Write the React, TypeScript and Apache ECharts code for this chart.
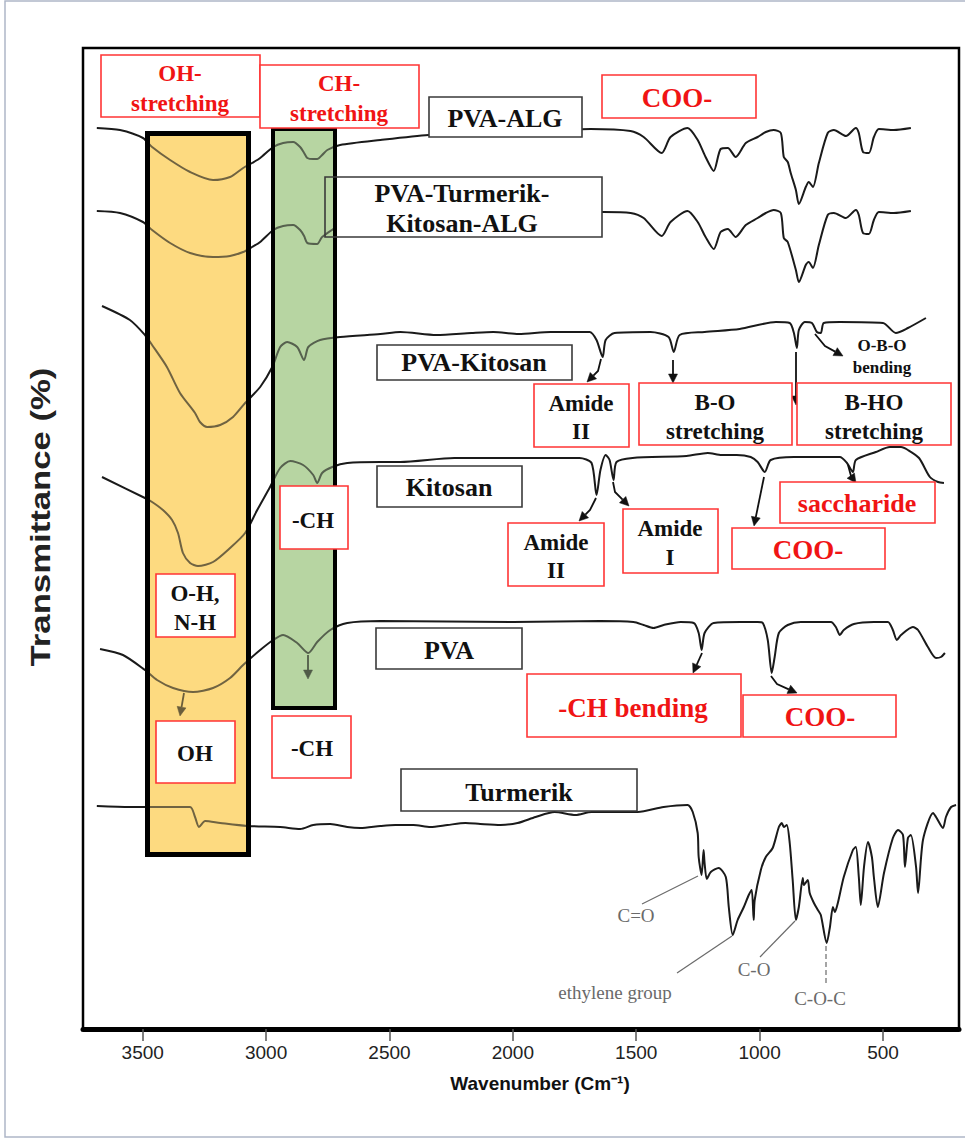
import React, { useEffect, useRef } from 'react';
import * as echarts from 'echarts';

// Wavenumber ticks (cm-1)
const wavenumberTicks = [3500, 3000, 2500, 2000, 1500, 1000, 500];

// Spectra: [wavenumber (cm-1), transmittance (stacked, arbitrary %)]
const pvaAlg: [number, number][] = [
  [3686, 90.1], [3592, 89.9], [3499, 89.1], [3462, 88.2], [3389, 86.9], [3308, 85.7], [3215, 84.9], [3146, 85.2],
  [3093, 86.1], [3057, 86.6], [3024, 87.1], [2971, 88.2], [2931, 88.6], [2890, 88.7], [2862, 88.2], [2846, 87.6],
  [2833, 87.1], [2809, 87.0], [2793, 87.0], [2773, 87.4], [2752, 87.9], [2700, 88.4], [2537, 88.9], [2342, 89.4],
  [2132, 89.6], [1847, 89.8], [1685, 90.0], [1523, 89.8], [1470, 89.2], [1397, 87.6], [1361, 89.2], [1292, 90.1],
  [1251, 88.9], [1219, 87.2], [1186, 85.8], [1158, 88.0], [1129, 88.1], [1097, 87.2], [1056, 88.6], [1008, 89.2],
  [975, 89.7], [943, 89.9], [914, 89.6], [902, 87.2], [886, 86.7], [874, 85.6], [853, 83.9], [841, 82.5],
  [813, 84.2], [801, 84.7], [784, 84.2], [760, 86.6], [724, 89.6], [699, 89.9], [650, 89.3], [610, 90.1],
  [598, 89.6], [581, 87.7], [557, 87.6], [537, 89.2], [517, 90.0], [456, 89.9], [387, 90.1],
];

const pvaTurmerikKitosanAlg: [number, number][] = [
  [3686, 81.8], [3592, 81.6], [3499, 80.7], [3462, 79.9], [3389, 78.6], [3308, 77.6], [3215, 77.2], [3146, 77.3],
  [3093, 77.7], [3057, 78.2], [3024, 78.7], [2971, 79.9], [2931, 80.3], [2890, 80.4], [2862, 79.9], [2846, 79.3],
  [2833, 78.6], [2793, 78.5], [2773, 79.2], [2700, 80.3], [2375, 80.9], [1969, 81.4], [1632, 81.7], [1523, 81.6],
  [1470, 81.1], [1397, 79.3], [1361, 80.7], [1292, 81.8], [1251, 80.7], [1219, 79.2], [1186, 78.0], [1158, 79.7],
  [1129, 80.0], [1097, 79.2], [1056, 80.4], [1008, 81.1], [975, 81.6], [943, 81.9], [914, 81.6], [902, 79.1],
  [886, 78.7], [853, 75.9], [841, 74.7], [813, 76.4], [801, 76.7], [784, 76.1], [760, 78.4], [724, 81.4],
  [699, 81.6], [650, 81.1], [610, 81.9], [598, 81.4], [581, 79.6], [557, 79.5], [537, 80.9], [517, 81.7],
  [456, 81.6], [387, 81.8],
];

const pvaKitosan: [number, number][] = [
  [3665, 72.3], [3552, 70.9], [3491, 69.4], [3462, 68.4], [3402, 66.2], [3349, 63.6], [3288, 61.6], [3268, 60.7],
  [3239, 60.2], [3186, 60.4], [3134, 61.2], [3085, 62.6], [3024, 64.2], [2975, 66.2], [2943, 68.2], [2915, 68.7],
  [2874, 68.2], [2846, 66.9], [2829, 68.2], [2781, 68.9], [2700, 69.2], [2537, 69.5], [2456, 69.7], [2310, 69.4],
  [2168, 69.6], [2079, 69.7], [1977, 69.5], [1847, 69.7], [1689, 69.7], [1661, 68.9], [1636, 67.2], [1624, 68.9],
  [1588, 69.6], [1442, 69.7], [1369, 69.2], [1348, 67.7], [1324, 69.4], [1223, 69.7], [1081, 70.0], [934, 70.7],
  [878, 70.6], [861, 69.6], [849, 68.1], [841, 69.9], [817, 70.7], [788, 70.6], [768, 69.7], [752, 69.6],
  [740, 70.6], [675, 70.7], [500, 70.6], [448, 69.6], [399, 70.1], [326, 71.1],
];

const kitosan: [number, number][] = [
  [3665, 55.2], [3491, 53.1], [3462, 52.7], [3418, 51.9], [3381, 50.9], [3357, 49.6], [3337, 47.6], [3308, 46.6],
  [3276, 46.3], [3215, 46.7], [3146, 48.1], [3085, 49.6], [3036, 51.9], [2984, 54.2], [2943, 56.1], [2902, 56.8],
  [2850, 56.4], [2809, 55.4], [2793, 54.6], [2773, 55.6], [2732, 56.2], [2671, 56.6], [2537, 56.7], [2456, 56.7],
  [2237, 57.1], [1977, 57.1], [1730, 57.1], [1681, 56.6], [1661, 53.4], [1645, 55.9], [1624, 57.4], [1608, 56.9],
  [1592, 54.9], [1580, 56.7], [1515, 57.1], [1296, 57.3], [1210, 57.6], [1154, 57.4], [1093, 57.4], [1036, 57.2],
  [1008, 56.7], [979, 55.7], [955, 56.9], [861, 57.2], [675, 57.2], [646, 56.6], [622, 55.7], [610, 56.9],
  [529, 57.7], [472, 58.2], [427, 58.2], [399, 57.9], [354, 57.1], [310, 55.2], [277, 54.7], [253, 54.6],
];

const pva: [number, number][] = [
  [3673, 38.0], [3580, 37.4], [3491, 35.9], [3442, 34.9], [3377, 34.1], [3296, 33.7], [3215, 34.1], [3146, 35.1],
  [3093, 36.4], [3024, 37.9], [2971, 38.9], [2931, 39.4], [2874, 38.6], [2829, 37.6], [2793, 38.7], [2740, 39.9],
  [2671, 40.6], [2537, 40.8], [1998, 40.7], [1645, 40.8], [1511, 40.7], [1470, 40.4], [1430, 40.1], [1389, 40.4],
  [1320, 40.7], [1267, 40.6], [1247, 39.6], [1235, 37.9], [1223, 39.6], [1186, 40.6], [1077, 40.7], [1008, 40.7],
  [987, 40.6], [967, 38.9], [951, 35.6], [939, 37.2], [922, 39.6], [886, 40.4], [833, 40.7], [711, 40.7],
  [691, 40.2], [675, 39.4], [659, 39.9], [618, 40.5], [537, 40.7], [480, 40.7], [460, 39.9], [444, 38.9],
  [427, 39.4], [379, 40.2], [358, 39.9], [318, 38.2], [285, 37.1], [265, 37.2], [249, 37.6],
];

const turmerik: [number, number][] = [
  [3686, 22.3], [3552, 22.2], [3308, 22.2], [3288, 21.2], [3272, 20.2], [3247, 20.8], [3186, 20.6], [3077, 20.3],
  [2943, 20.2], [2862, 20.0], [2809, 20.4], [2740, 20.5], [2671, 20.2], [2618, 20.1], [2537, 20.3], [2476, 20.4],
  [2403, 20.4], [2334, 20.2], [2265, 20.4], [2192, 20.6], [2132, 20.5], [2050, 20.4], [1981, 20.6], [1908, 21.2],
  [1831, 21.7], [1746, 21.4], [1681, 21.7], [1494, 21.7], [1389, 22.2], [1292, 22.4], [1271, 21.7], [1251, 19.6],
  [1247, 17.2], [1235, 15.4], [1227, 17.9], [1223, 16.6], [1214, 15.0], [1198, 15.7], [1166, 16.1], [1137, 15.2],
  [1125, 12.2], [1109, 9.4], [1089, 10.9], [1064, 12.2], [1044, 13.4], [1032, 13.9], [1024, 10.9], [1020, 12.9],
  [995, 15.9], [975, 17.2], [947, 18.1], [922, 20.2], [910, 20.6], [902, 20.2], [890, 20.4], [878, 18.6],
  [866, 14.9], [853, 10.9], [841, 12.2], [825, 15.1], [821, 14.4], [805, 14.9], [797, 13.6], [780, 12.6],
  [764, 11.9], [752, 11.4], [728, 8.6], [715, 10.2], [703, 12.2], [695, 11.7], [683, 12.6], [659, 15.2],
  [622, 17.9], [610, 18.2], [598, 15.2], [590, 12.4], [577, 16.2], [561, 18.7], [545, 17.2], [537, 15.2],
  [521, 12.2], [496, 15.6], [460, 19.1], [439, 19.9], [419, 19.4], [411, 16.2], [399, 19.1], [387, 19.4],
  [366, 16.2], [358, 13.6], [338, 18.9], [297, 21.6], [285, 21.2], [257, 20.1], [245, 21.2], [224, 22.2], [204, 22.4],
];

const spectra: { name: string; data: [number, number][] }[] = [
  { name: 'PVA-ALG', data: pvaAlg },
  { name: 'PVA-Turmerik-Kitosan-ALG', data: pvaTurmerikKitosanAlg },
  { name: 'PVA-Kitosan', data: pvaKitosan },
  { name: 'Kitosan', data: kitosan },
  { name: 'PVA', data: pva },
  { name: 'Turmerik', data: turmerik },
];

const SERIF = '"Liberation Serif", "Times New Roman", serif';
const SANS = '"Liberation Sans", Arial, sans-serif';
const RED_TEXT = '#f01414';
const RED_BORDER = '#ff3535';
const BLACK_BORDER = '#3a3a3a';
const YELLOW = '#FDDA80';
const GREEN = '#B7D6A2';

function txt(x: number, y: number, text: string, size: number, fill: string, weight = 'bold', family = SERIF, z = 21): any {
  return {
    type: 'text', x, y, z, silent: true,
    style: {
      text, fill, font: `${weight} ${size}px ${family}`,
      align: 'center', verticalAlign: 'middle', textAlign: 'center', textVerticalAlign: 'middle',
    },
  };
}

function labelBox(x1: number, y1: number, x2: number, y2: number, stroke: string, lines: string[], ys: number[], cx: number, size: number, fill: string): any[] {
  const els: any[] = [
    { type: 'rect', z: 20, silent: true, shape: { x: x1, y: y1, width: x2 - x1, height: y2 - y1 }, style: { fill: '#fff', stroke, lineWidth: 1.6 } },
  ];
  lines.forEach((t, i) => els.push(txt(cx, ys[i], t, size, fill)));
  return els;
}

function arrow(pts: number[][], color = '#111', z = 15, w = 1.8): any[] {
  const n = pts.length;
  const [x1, y1] = pts[n - 2];
  const [x2, y2] = pts[n - 1];
  const a = Math.atan2(y2 - y1, x2 - x1);
  const L = 9, W = 4.5;
  const bx = x2 - L * Math.cos(a), by = y2 - L * Math.sin(a);
  const head = [[x2, y2], [bx + W * Math.sin(a), by - W * Math.cos(a)], [bx - W * Math.sin(a), by + W * Math.cos(a)]];
  const linePts = pts.slice(0, n - 1).concat([[bx, by]]);
  return [
    { type: 'polyline', z, silent: true, shape: { points: linePts }, style: { stroke: color, lineWidth: w, fill: 'none' } },
    { type: 'polygon', z, silent: true, shape: { points: head }, style: { fill: color, stroke: color, lineWidth: 0.5 } },
  ];
}

function line(pts: number[][], color: string, z = 15, w = 1.2, dash?: number[]): any {
  return { type: 'polyline', z, silent: true, shape: { points: pts }, style: { stroke: color, lineWidth: w, fill: 'none', lineDash: dash } };
}

function buildGraphics(): any[] {
  const g: any[] = [];
  // outer frame of the figure
  g.push({ type: 'rect', z: 0, silent: true, shape: { x: 5, y: 1, width: 962, height: 1136 }, style: { fill: 'none', stroke: '#aeb6c8', lineWidth: 1.5 } });
  // shaded regions (below curves)
  g.push({ type: 'rect', z: 1, silent: true, shape: { x: 147, y: 133, width: 102, height: 722 }, style: { fill: YELLOW } });
  g.push({ type: 'rect', z: 1, silent: true, shape: { x: 273, y: 129, width: 62, height: 579 }, style: { fill: GREEN } });
  // arrows inside the shaded regions (tinted by overlay)
  g.push(...arrow([[184, 693], [180, 716]], '#111', 5));
  g.push(...arrow([[308, 655], [308, 679]], '#111', 5));
  // overlays
  g.push({ type: 'rect', z: 10, silent: true, shape: { x: 147, y: 133, width: 102, height: 722 }, style: { fill: YELLOW, opacity: 0.38 } });
  g.push({ type: 'rect', z: 10, silent: true, shape: { x: 273, y: 129, width: 62, height: 579 }, style: { fill: GREEN, opacity: 0.38 } });
  // borders
  g.push({ type: 'rect', z: 11, silent: true, shape: { x: 147.5, y: 133.5, width: 101, height: 721 }, style: { fill: 'none', stroke: '#000', lineWidth: 5 } });
  g.push({ type: 'rect', z: 11, silent: true, shape: { x: 273, y: 129, width: 62, height: 579 }, style: { fill: 'none', stroke: '#000', lineWidth: 4 } });

  // red labels with red text
  g.push(...labelBox(101, 55, 260, 117, RED_BORDER, ['OH-', 'stretching'], [73, 103], 180, 23, RED_TEXT));
  g.push(...labelBox(260, 65, 419, 128, RED_BORDER, ['CH-', 'stretching'], [83, 113], 339, 23, RED_TEXT));
  g.push(...labelBox(602, 75, 756, 118, RED_BORDER, ['COO-'], [98], 677, 27, RED_TEXT));
  g.push(...labelBox(780, 482, 935, 523, RED_BORDER, ['saccharide'], [503], 857, 26, RED_TEXT));
  g.push(...labelBox(732, 528, 885, 569, RED_BORDER, ['COO-'], [550], 808, 27, RED_TEXT));
  g.push(...labelBox(527, 674, 741, 737, RED_BORDER, ['-CH bending'], [708], 633, 27, RED_TEXT));
  g.push(...labelBox(743, 695, 896, 737, RED_BORDER, ['COO-'], [717], 820, 27, RED_TEXT));

  // red boxes with black text
  g.push(...labelBox(534, 384, 629, 447, RED_BORDER, ['Amide', 'II'], [403, 431], 581, 23, '#111'));
  g.push(...labelBox(639, 383, 792, 445, RED_BORDER, ['B-O', 'stretching'], [402, 431], 715, 23, '#111'));
  g.push(...labelBox(797, 383, 951, 445, RED_BORDER, ['B-HO', 'stretching'], [402, 431], 874, 23, '#111'));
  g.push(...labelBox(508, 523, 604, 586, RED_BORDER, ['Amide', 'II'], [542, 570], 556, 23, '#111'));
  g.push(...labelBox(623, 509, 718, 573, RED_BORDER, ['Amide', 'I'], [528, 557], 670, 23, '#111'));
  g.push(...labelBox(280, 486, 348, 549, RED_BORDER, ['-CH'], [520], 313, 23, '#111'));
  g.push(...labelBox(156, 574, 235, 637, RED_BORDER, ['O-H,', 'N-H'], [593, 622], 195, 23, '#111'));
  g.push(...labelBox(156, 721, 235, 783, RED_BORDER, ['OH'], [753], 195, 23, '#111'));
  g.push(...labelBox(272, 716, 351, 778, RED_BORDER, ['-CH'], [748], 312, 23, '#111'));

  // sample name boxes
  g.push(...labelBox(429, 97, 582, 137, BLACK_BORDER, ['PVA-ALG'], [118], 505, 26, '#111'));
  g.push({ type: 'rect', z: 20, silent: true, shape: { x: 337, y: 177, width: 265, height: 60 }, style: { fill: '#fff' } });
  g.push({ type: 'rect', z: 20, silent: true, shape: { x: 325, y: 177, width: 277, height: 60 }, style: { fill: 'none', stroke: BLACK_BORDER, lineWidth: 1.6 } });
  g.push(txt(462, 193, 'PVA-Turmerik-', 26, '#111'));
  g.push(txt(462, 223, 'Kitosan-ALG', 26, '#111'));
  g.push(...labelBox(377, 345, 572, 380, BLACK_BORDER, ['PVA-Kitosan'], [362], 474, 26, '#111'));
  g.push(...labelBox(377, 466, 522, 507, BLACK_BORDER, ['Kitosan'], [487], 449, 26, '#111'));
  g.push(...labelBox(376, 628, 522, 669, BLACK_BORDER, ['PVA'], [650], 449, 26, '#111'));
  g.push(...labelBox(401, 769, 637, 811, BLACK_BORDER, ['Turmerik'], [792], 519, 26, '#111'));

  // O-B-O bending text
  g.push(txt(882, 345, 'O-B-O', 17, '#111'));
  g.push(txt(882, 367, 'bending', 17, '#111'));

  // black arrows
  g.push(...arrow([[601, 359], [598, 371], [587, 382]]));
  g.push(...arrow([[673, 360], [673, 383]]));
  g.push(...arrow([[796, 352], [796, 405]]));
  g.push(...arrow([[815, 334], [825, 346], [843, 356]]));
  g.push(...arrow([[596, 498], [590, 510], [579, 521]]));
  g.push(...arrow([[613, 482], [615, 492], [629, 506]]));
  g.push(...arrow([[764, 477], [754, 526]]));
  g.push(...arrow([[848, 465], [851, 476], [856, 483]]));
  g.push(...arrow([[702, 653], [693, 673]]));
  g.push(...arrow([[771, 676], [777, 684], [797, 693]]));

  // Turmerik annotations (gray)
  const GRAY = '#6a6a6a';
  g.push(line([[698, 876], [642, 904]], GRAY));
  g.push(line([[732, 936], [677, 973]], GRAY));
  g.push(line([[795, 921], [760, 957]], GRAY));
  g.push(line([[826, 946], [826, 986]], GRAY, 15, 1.2, [5, 3]));
  g.push(txt(636, 915, 'C=O', 19, GRAY, 'normal'));
  g.push(txt(615, 992, 'ethylene group', 19, GRAY, 'normal'));
  g.push(txt(754, 969, 'C-O', 19, GRAY, 'normal'));
  g.push(txt(820, 998, 'C-O-C', 19, GRAY, 'normal'));

  // axis titles
  g.push({
    type: 'text', x: 40, y: 517, z: 21, rotation: Math.PI / 2, scaleX: 1.24, silent: true,
    style: { text: 'Transmittance (%)', fill: '#222', font: `bold 28px ${SANS}`, align: 'center', verticalAlign: 'middle', textAlign: 'center', textVerticalAlign: 'middle' },
  });
  g.push(txt(540, 1083, 'Wavenumber (Cm\u207B\u00B9)', 19, '#111', 'bold', SANS));
  return g;
}

export default function App() {
  const ref = useRef<HTMLDivElement>(null);
  useEffect(() => {
    document.body.style.margin = '0';
    const chart = echarts.init(ref.current!, null, { renderer: 'svg' });
    chart.setOption({
      animation: false,
      backgroundColor: '#fff',
      grid: { left: 83, right: 6, top: 48, bottom: 111, show: true, borderColor: '#000', borderWidth: 2.5, backgroundColor: 'transparent' },
      xAxis: {
        type: 'value', inverse: true, min: 192, max: 3742,
        axisLine: { show: true, onZero: false, lineStyle: { color: '#000', width: 5 } },
        axisTick: { show: true, customValues: wavenumberTicks, length: 12, lineStyle: { color: '#555', width: 1.5 } },
        axisLabel: { customValues: wavenumberTicks, margin: 14, fontSize: 19, color: '#222', fontFamily: SANS, formatter: (v: number) => String(v) },
        splitLine: { show: false },
      },
      yAxis: { type: 'value', min: 0, max: 98.1, show: false },
      series: spectra.map((s) => ({
        name: s.name, type: 'line', data: s.data, showSymbol: false, smooth: 0.25, z: 2,
        lineStyle: { color: '#1a1a1a', width: 2 }, silent: true,
      })),
      graphic: { elements: buildGraphics() },
    });
    return () => chart.dispose();
  }, []);
  return <div ref={ref} style={{ width: 965, height: 1140, background: '#fff' }} />;
}
